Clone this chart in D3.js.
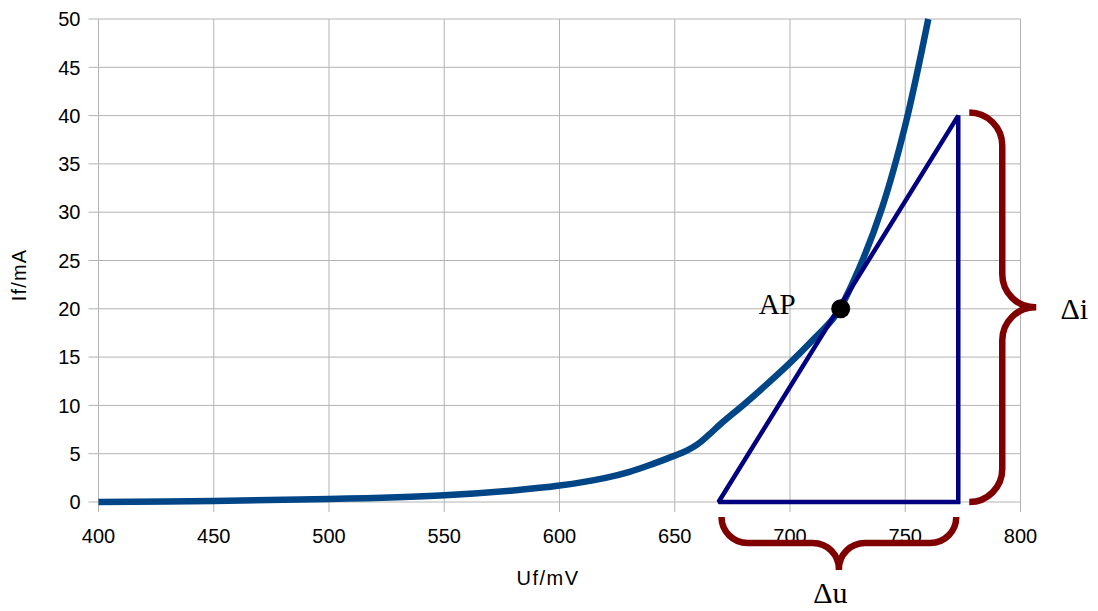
<!DOCTYPE html>
<html>
<head>
<meta charset="utf-8">
<script src="https://cdn.jsdelivr.net/npm/d3@7"></script>
<style>
    body { margin: 0; background: #fff; }
    svg text { font-family: "Liberation Sans", Arial, sans-serif; }
    .serif { font-family: "Liberation Serif", "Times New Roman", serif; }
</style>
</head>
<body>
<svg id="chart"></svg>
<script>
// diode forward characteristic
const voltage = [400, 450, 500, 550, 580, 600, 620, 630, 640, 650, 655, 660, 665, 670, 680, 690, 700, 710, 720, 730, 740, 750, 760];
const current = [0, 0.1, 0.3, 0.7, 1.2, 1.7, 2.5, 3.1, 3.9, 4.8, 5.3, 6.0, 7.0, 8.1, 10.1, 12.2, 14.4, 16.8, 19.4, 24.2, 30.5, 39.0, 50.0];

const xTicks = [400, 450, 500, 550, 600, 650, 700, 750, 800];
const yTicks = [0, 5, 10, 15, 20, 25, 30, 35, 40, 45, 50];

// operating point and tangent triangle
const apPoint = {u: 722, i: 20};
const triangleU = [669, 773, 773];
const triangleI = [0, 40, 0];

const width = 1098, height = 611;
const margin = {top: 19, right: 77.5, bottom: 109, left: 98.5};

const svg = d3.select("#chart").attr("width", width).attr("height", height);

const x = d3.scaleLinear().domain([400, 800]).range([margin.left, width - margin.right]);
const y = d3.scaleLinear().domain([0, 50]).range([height - margin.bottom, margin.top]);

const GRID = "#b3b3b3";

// grid
svg.append("g")
    .selectAll("line")
    .data(xTicks)
    .enter().append("line")
    .attr("x1", d => x(d)).attr("x2", d => x(d))
    .attr("y1", y(50)).attr("y2", y(0) + 10)
    .attr("stroke", GRID).attr("stroke-width", 1);

svg.append("g")
    .selectAll("line")
    .data(yTicks)
    .enter().append("line")
    .attr("x1", x(400) - 10).attr("x2", x(800))
    .attr("y1", d => y(d)).attr("y2", d => y(d))
    .attr("stroke", GRID).attr("stroke-width", 1);

// tick labels
svg.append("g")
    .selectAll("text")
    .data(xTicks)
    .enter().append("text")
    .attr("x", d => x(d))
    .attr("y", y(0) + 41)
    .attr("text-anchor", "middle")
    .attr("font-size", 20)
    .text(d => d);

svg.append("g")
    .selectAll("text")
    .data(yTicks)
    .enter().append("text")
    .attr("x", x(400) - 18)
    .attr("y", d => y(d))
    .attr("dy", "0.36em")
    .attr("text-anchor", "end")
    .attr("font-size", 20)
    .text(d => d);

// axis titles
svg.append("text")
    .attr("x", 548).attr("y", 585)
    .attr("text-anchor", "middle")
    .attr("font-size", 20)
    .attr("letter-spacing", 1.5)
    .text("Uf/mV");

svg.append("text")
    .attr("transform", "translate(26," + 275 + ") rotate(-90)")
    .attr("text-anchor", "middle")
    .attr("font-size", 20)
    .attr("letter-spacing", 1.2)
    .text("If/mA");

// curve
const points = voltage.map((u, k) => [u, current[k]]);
svg.append("path")
    .datum(points)
    .attr("fill", "none")
    .attr("stroke", "#004586")
    .attr("stroke-width", 6.5)
    .attr("stroke-linejoin", "round")
    .attr("d", d3.line().x(d => x(d[0])).y(d => y(d[1])).curve(d3.curveCatmullRom.alpha(0.5)));

// tangent triangle
svg.append("path")
    .datum(triangleU.map((u, k) => [u, triangleI[k]]))
    .attr("fill", "none")
    .attr("stroke", "#000080")
    .attr("stroke-width", 4.5)
    .attr("stroke-linejoin", "miter")
    .attr("stroke-miterlimit", 2)
    .attr("d", d => d3.line().x(p => x(p[0])).y(p => y(p[1]))(d) + "Z");

// operating point
svg.append("circle")
    .attr("cx", x(apPoint.u)).attr("cy", y(apPoint.i))
    .attr("r", 9.5)
    .attr("fill", "#000");

svg.append("text")
    .attr("class", "serif")
    .attr("x", x(apPoint.u) - 45).attr("y", y(apPoint.i) + 5)
    .attr("text-anchor", "end")
    .attr("font-size", 29)
    .text("AP");

// braces
const BRACE = "#800000";

function rightBrace(xs, yTop, yBot, r, depth) {
    const p = d3.path();
    const xv = xs + r, ym = (yTop + yBot) / 2, xt = xv + depth;
    p.moveTo(xs, yTop);
    p.arcTo(xv, yTop, xv, yTop + r, r);
    p.lineTo(xv, ym - r);
    p.arcTo(xv, ym, xt, ym, r);
    p.lineTo(xt, ym);
    p.arcTo(xv, ym, xv, ym + r, r);
    p.lineTo(xv, yBot - r);
    p.arcTo(xv, yBot, xs, yBot, r);
    return p.toString();
}

function bottomBrace(ys, xLeft, xRight, r, depth) {
    const p = d3.path();
    const yh = ys + r, xm = (xLeft + xRight) / 2, yt = yh + depth;
    p.moveTo(xLeft, ys);
    p.arcTo(xLeft, yh, xLeft + r, yh, r);
    p.lineTo(xm - r, yh);
    p.arcTo(xm, yh, xm, yt, r);
    p.lineTo(xm, yt);
    p.arcTo(xm, yh, xm + r, yh, r);
    p.lineTo(xRight - r, yh);
    p.arcTo(xRight, yh, xRight, ys, r);
    return p.toString();
}

svg.append("path")
    .attr("d", rightBrace(x(triangleU[1]) + 11, y(40) - 3, y(0), 33, 34))
    .attr("fill", "none")
    .attr("stroke", BRACE)
    .attr("stroke-width", 6.5);

svg.append("path")
    .attr("d", bottomBrace(y(0) + 15, x(triangleU[0]) + 3, x(triangleU[1]) - 2, 26, 27))
    .attr("fill", "none")
    .attr("stroke", BRACE)
    .attr("stroke-width", 6.5);

svg.append("text")
    .attr("class", "serif")
    .attr("x", x(triangleU[1]) + 116).attr("y", y(20) + 10)
    .attr("text-anchor", "middle")
    .attr("font-size", 30)
    .text("\u0394i");

svg.append("text")
    .attr("class", "serif")
    .attr("x", (x(triangleU[0]) + x(triangleU[1])) / 2 - 8).attr("y", 603)
    .attr("text-anchor", "middle")
    .attr("font-size", 30)
    .text("\u0394u");
</script>
</body>
</html>
